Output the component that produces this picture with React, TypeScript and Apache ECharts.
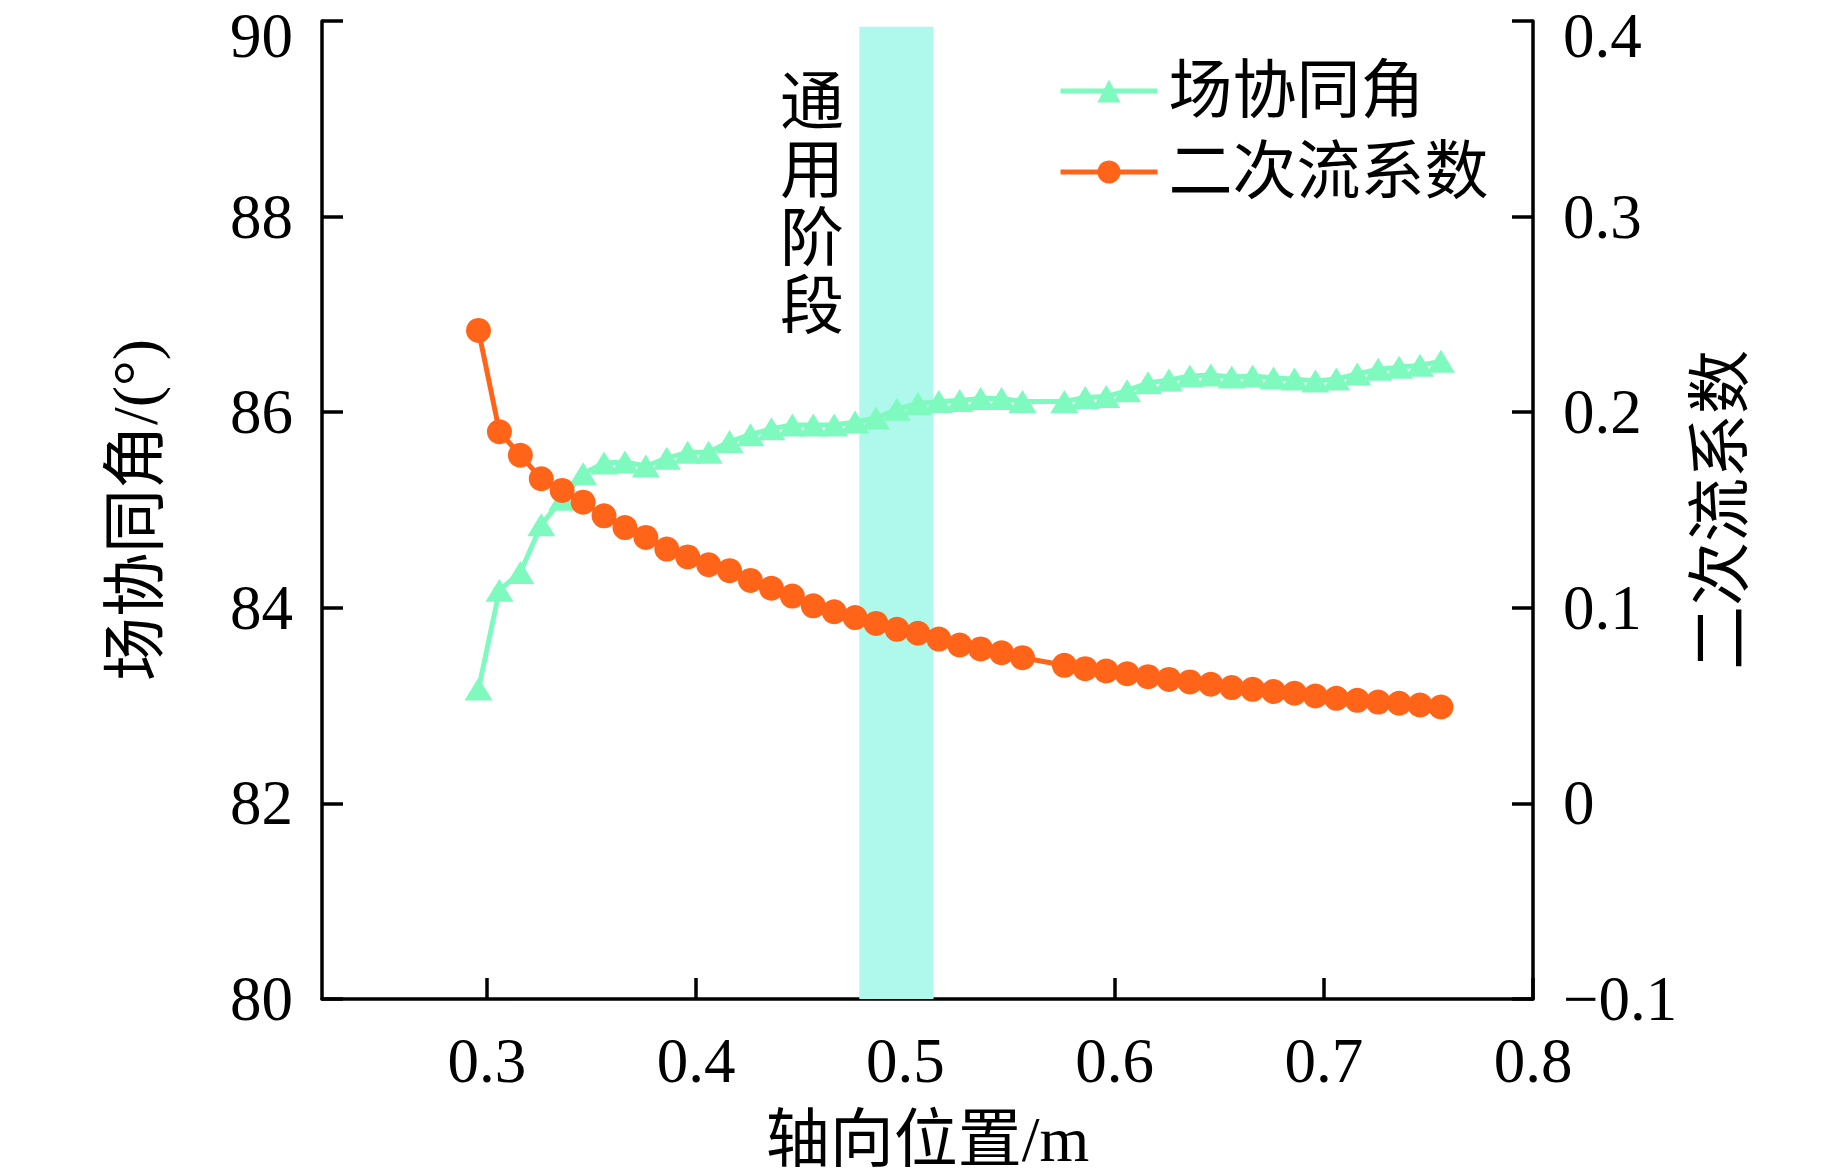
import React, { useEffect, useRef } from "react";
import * as echarts from "echarts";

// Axial position (m) of each sample
const positions = [
  0.296, 0.306, 0.316, 0.326, 0.336, 0.346, 0.356, 0.366, 0.376, 0.386,
  0.396, 0.406, 0.416, 0.426, 0.436, 0.446, 0.456, 0.466, 0.476, 0.486,
  0.496, 0.506, 0.516, 0.526, 0.536, 0.546, 0.556,
  0.576, 0.586, 0.596, 0.606, 0.616, 0.626, 0.636, 0.646, 0.656, 0.666,
  0.676, 0.686, 0.696, 0.706, 0.716, 0.726, 0.736, 0.746, 0.756,
];

// 场协同角 (°), left axis
const fieldSynergyAngle = [
  83.17, 84.18, 84.36, 84.85, 85.11, 85.37, 85.48, 85.49, 85.45, 85.53,
  85.59, 85.59, 85.7, 85.77, 85.83, 85.87, 85.87, 85.87, 85.9, 85.94,
  86.03, 86.09, 86.11, 86.12, 86.14, 86.14, 86.11,
  86.11, 86.15, 86.16, 86.22, 86.3, 86.33, 86.37, 86.38, 86.36, 86.37,
  86.35, 86.34, 86.32, 86.34, 86.39, 86.44, 86.46, 86.48, 86.52,
];

// 二次流系数, right axis
const secondaryFlowCoef = [
  0.2418, 0.19, 0.178, 0.166, 0.16, 0.154, 0.147, 0.141, 0.136, 0.13,
  0.126, 0.122, 0.119, 0.114, 0.11, 0.106, 0.101, 0.098, 0.095, 0.092,
  0.089, 0.087, 0.084, 0.081, 0.079, 0.077, 0.0745,
  0.0706, 0.0689, 0.0677, 0.0663, 0.0648, 0.0634, 0.0621, 0.0609, 0.0592, 0.0583,
  0.0572, 0.0563, 0.0549, 0.0537, 0.0527, 0.0518, 0.0512, 0.0503, 0.0493,
];

const xTicks = [0.3, 0.4, 0.5, 0.6, 0.7, 0.8];
const bandRange = [0.478, 0.5135];
const bandTop = 89.94;
const stageLabel = ["通", "用", "阶", "段"];
const seriesNames = ["场协同角", "二次流系数"];

const FONT = "'Liberation Serif', 'Noto Sans CJK SC', serif";
const GREEN = "#7FFABF";
const ORANGE = "#FF6418";
const BAND = "#AFF9EC";
const BLACK = "#000";

export default function App() {
  const ref = useRef<HTMLDivElement>(null);

  useEffect(() => {
    const chart = echarts.init(ref.current!, null, { renderer: "svg" });
    const axisLine = { show: true, onZero: false, lineStyle: { color: BLACK, width: 3.5 } };
    const axisTick = { show: true, inside: true, length: 21, lineStyle: { color: BLACK, width: 3.5 } };
    const labelStyle = { color: BLACK, fontSize: 63, fontFamily: FONT };
    const nameStyle = { color: BLACK, fontSize: 64, fontFamily: FONT };
    const topRich = { top: { padding: [30, 0, 0, 0], fontSize: 63, fontFamily: FONT, color: BLACK } };

    chart.setOption({
      animation: false,
      backgroundColor: "#fff",
      grid: { left: 322, right: 310, top: 21, bottom: 176 },
      legend: {
        orient: "vertical",
        left: 1053,
        top: 54,
        itemWidth: 97,
        itemHeight: 29,
        itemGap: 17,
        data: seriesNames,
        lineStyle: { width: 5 },
        textStyle: { ...nameStyle, padding: [0, 0, 0, 6] },
      },
      xAxis: {
        type: "value",
        min: 0.2212,
        max: 0.8,
        name: "轴向位置/m",
        nameLocation: "middle",
        nameGap: 108,
        nameTextStyle: nameStyle,
        axisLine,
        axisTick: { ...axisTick, customValues: xTicks },
        axisLabel: {
          ...labelStyle,
          margin: 30,
          customValues: xTicks,
          formatter: (v: number) => v.toFixed(1),
        },
        splitLine: { show: false },
      },
      yAxis: [
        {
          type: "value",
          min: 80,
          max: 90,
          interval: 2,
          name: "场协同角/(°)",
          nameLocation: "middle",
          nameRotate: 90,
          nameGap: 155,
          nameTextStyle: nameStyle,
          axisLine,
          axisTick,
          axisLabel: {
            ...labelStyle,
            margin: 29,
            rich: topRich,
            formatter: (v: number) => (v >= 90 ? `{top|${v}}` : `${v}`),
          },
          splitLine: { show: false },
        },
        {
          type: "value",
          position: "right",
          min: -0.1,
          max: 0.4,
          interval: 0.1,
          name: "二次流系数",
          nameLocation: "middle",
          nameRotate: 90,
          nameGap: 137,
          nameTextStyle: nameStyle,
          axisLine,
          axisTick,
          axisLabel: {
            ...labelStyle,
            margin: 30,
            rich: topRich,
            formatter: (v: number) => {
              const s =
                Math.abs(v) < 1e-9 ? "0" : (v < 0 ? "\u2212" : "") + Math.abs(v).toFixed(1);
              return v > 0.39 ? `{top|${s}}` : s;
            },
          },
          splitLine: { show: false },
        },
      ],
      graphic: [
        {
          type: "text",
          left: 780,
          top: 68,
          style: {
            text: stageLabel.join("\n"),
            fontSize: 64,
            lineHeight: 68,
            fontFamily: FONT,
            fill: BLACK,
          },
        },
      ],
      series: [
        {
          type: "line",
          name: seriesNames[0],
          yAxisIndex: 0,
          data: positions.map((x, i) => [x, fieldSynergyAngle[i]]),
          symbol: "triangle",
          symbolSize: [28, 23],
          showAllSymbol: true,
          lineStyle: { color: GREEN, width: 5 },
          itemStyle: { color: GREEN },
          z: 3,
          markArea: {
            silent: true,
            z: 1,
            itemStyle: { color: BAND, opacity: 1 },
            data: [[{ xAxis: bandRange[0], yAxis: bandTop }, { xAxis: bandRange[1], yAxis: 80 }]],
          },
        },
        {
          type: "line",
          name: seriesNames[1],
          yAxisIndex: 1,
          data: positions.map((x, i) => [x, secondaryFlowCoef[i]]),
          symbol: "circle",
          symbolSize: 25,
          showAllSymbol: true,
          lineStyle: { color: ORANGE, width: 5 },
          itemStyle: { color: ORANGE },
          z: 4,
        },
      ],
    });
    return () => chart.dispose();
  }, []);

  return (
    <div
      ref={ref}
      style={{ position: "fixed", left: 0, top: 0, width: 1843, height: 1176, background: "#fff" }}
    />
  );
}
